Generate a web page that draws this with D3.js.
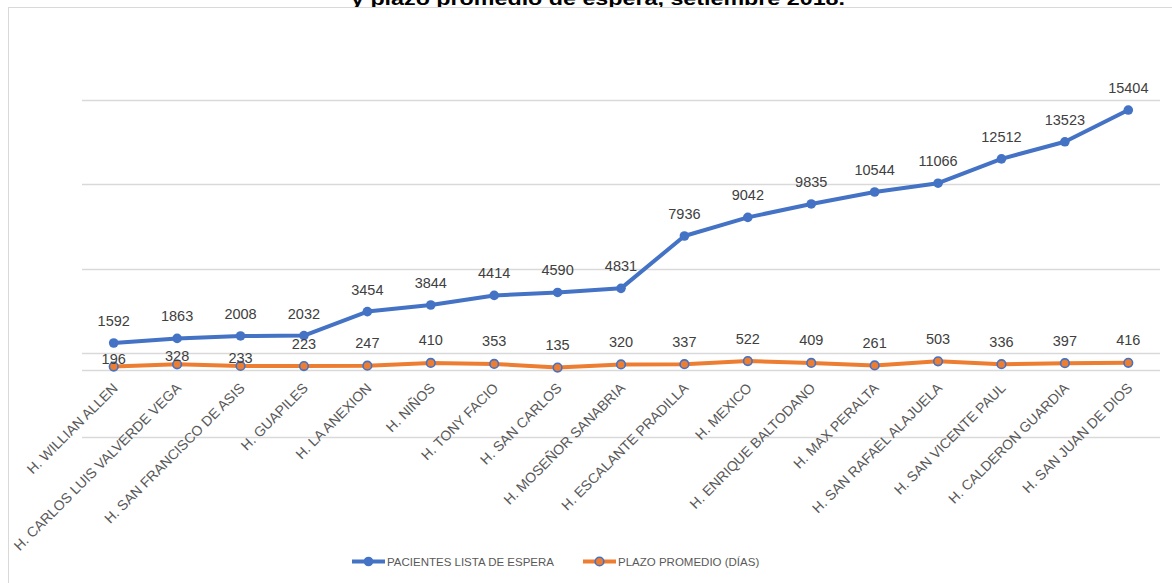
<!DOCTYPE html>
<html>
<head>
<meta charset="utf-8">
<script src="https://cdn.jsdelivr.net/npm/d3@7"></script>
<style>
  body { margin: 0; background: #fff; }
  svg { display: block; }
</style>
</head>
<body>
<div id="chart"></div>
<script>
// hospitals, in the order of the x axis
const hospitals = [
  "H. WILLIAN ALLEN", "H. CARLOS LUIS VALVERDE VEGA", "H. SAN FRANCISCO DE ASIS",
  "H. GUAPILES", "H. LA ANEXION", "H. NIÑOS", "H. TONY FACIO", "H. SAN CARLOS",
  "H. MOSEÑOR SANABRIA", "H. ESCALANTE PRADILLA", "H. MEXICO", "H. ENRIQUE BALTODANO",
  "H. MAX PERALTA", "H. SAN RAFAEL ALAJUELA", "H. SAN VICENTE PAUL",
  "H. CALDERON GUARDIA", "H. SAN JUAN DE DIOS"
];
const pacientes = [1592, 1863, 2008, 2032, 3454, 3844, 4414, 4590, 4831, 7936, 9042, 9835, 10544, 11066, 12512, 13523, 15404];
const plazo = [196, 328, 233, 223, 247, 410, 353, 135, 320, 337, 522, 409, 261, 503, 336, 397, 416];
const gridTicks = [-4000, 1000, 6000, 11000, 16000];
const seriesNames = ["PACIENTES LISTA DE ESPERA", "PLAZO PROMEDIO (DÍAS)"];

const W = 1172, H = 583;
const blue = "#4472C4", orange = "#ED7D31";
const font = "'Liberation Sans', Arial, sans-serif";

const svg = d3.select("#chart").append("svg")
  .attr("width", W).attr("height", H);

// title, cut off by the top edge of the picture (as in the source)
svg.append("text")
  .attr("x", 598).attr("y", 5)
  .attr("text-anchor", "middle")
  .attr("textLength", 494).attr("lengthAdjust", "spacingAndGlyphs")
  .style("font-family", font)
  .style("font-weight", 700).style("font-size", "19px")
  .attr("fill", "#000")
  .text("y plazo promedio de espera, setiembre 2018.");

// chart frame
svg.append("rect")
  .attr("x", 8.5).attr("y", 7.5)
  .attr("width", W + 20).attr("height", H + 20)
  .attr("fill", "#fff").attr("stroke", "#d9d9d9");

// scales
const x = d3.scaleBand().domain(hospitals).range([82, 1160]);
const cx = d => x(d) + x.bandwidth() / 2;
const y = d3.scaleLinear().domain([-4000, 16000]).range([437.3, 100]);

// grid lines
svg.selectAll(".grid")
  .data(gridTicks)
  .enter().append("line")
  .attr("class", "grid")
  .attr("x1", 82).attr("x2", 1160)
  .attr("y1", d => Math.round(y(d)) + 0.5)
  .attr("y2", d => Math.round(y(d)) + 0.5)
  .attr("stroke", "#d9d9d9").attr("stroke-width", 1.5);

// category axis at zero
svg.append("line")
  .attr("x1", 82).attr("x2", 1160)
  .attr("y1", Math.round(y(0)) + 0.5).attr("y2", Math.round(y(0)) + 0.5)
  .attr("stroke", "#d9d9d9").attr("stroke-width", 1.5);

// rotated category labels
svg.selectAll(".xlab")
  .data(hospitals)
  .enter().append("text")
  .attr("class", "xlab")
  .attr("text-anchor", "end")
  .attr("transform", d => "translate(" + (cx(d) + 5) + "," + 389 + ")rotate(-45)")
  .style("font-family", font).style("font-size", "14px")
  .attr("fill", "#595959")
  .text(d => d);

const rows = hospitals.map((h, i) => ({h: h, p: pacientes[i], d: plazo[i]}));

// orange line (plazo promedio)
svg.append("path")
  .datum(rows)
  .attr("fill", "none").attr("stroke", orange).attr("stroke-width", 4)
  .attr("stroke-linejoin", "round")
  .attr("d", d3.line().x(d => cx(d.h)).y(d => y(d.d)));

svg.selectAll(".dotO")
  .data(rows)
  .enter().append("circle")
  .attr("class", "dotO")
  .attr("cx", d => cx(d.h)).attr("cy", d => y(d.d))
  .attr("r", 4.3)
  .attr("fill", orange).attr("stroke", blue).attr("stroke-width", 1.6);

// blue line (pacientes)
svg.append("path")
  .datum(rows)
  .attr("fill", "none").attr("stroke", blue).attr("stroke-width", 4)
  .attr("stroke-linejoin", "round")
  .attr("d", d3.line().x(d => cx(d.h)).y(d => y(d.p)));

svg.selectAll(".dotB")
  .data(rows)
  .enter().append("circle")
  .attr("class", "dotB")
  .attr("cx", d => cx(d.h)).attr("cy", d => y(d.p))
  .attr("r", 4.8)
  .attr("fill", blue);

// data labels
svg.selectAll(".labB")
  .data(rows)
  .enter().append("text")
  .attr("class", "labB")
  .attr("x", d => cx(d.h)).attr("y", d => y(d.p) - 17)
  .attr("text-anchor", "middle")
  .style("font-family", font).style("font-size", "14.5px")
  .attr("fill", "#404040")
  .text(d => d.p);

svg.selectAll(".labO")
  .data(rows)
  .enter().append("text")
  .attr("class", "labO")
  .attr("x", d => cx(d.h))
  .attr("y", d => {
    // drop the label onto the point when the blue line sits right above it
    const crowded = y(d.d) - y(d.p) < 30;
    return crowded ? y(d.d) - 3 : y(d.d) - 17.5;
  })
  .attr("text-anchor", "middle")
  .style("font-family", font).style("font-size", "14.5px")
  .attr("fill", "#404040")
  .text(d => d.d);

// legend
const legend = svg.append("g");
const legendX = [352, 583];
seriesNames.forEach((name, i) => {
  const g = legend.append("g").attr("transform", "translate(" + legendX[i] + ",561.5)");
  g.append("line")
    .attr("x1", 0).attr("x2", 33).attr("y1", 0).attr("y2", 0)
    .attr("stroke", i === 0 ? blue : orange).attr("stroke-width", 4);
  g.append("circle")
    .attr("cx", 16.5).attr("cy", 0).attr("r", i === 0 ? 4.8 : 4.3)
    .attr("fill", i === 0 ? blue : orange)
    .attr("stroke", i === 0 ? "none" : blue).attr("stroke-width", 1.6);
  g.append("text")
    .attr("x", 35).attr("y", 4.5)
    .style("font-family", font).style("font-size", "11.5px")
    .attr("fill", "#595959")
    .text(name);
});
</script>
</body>
</html>
